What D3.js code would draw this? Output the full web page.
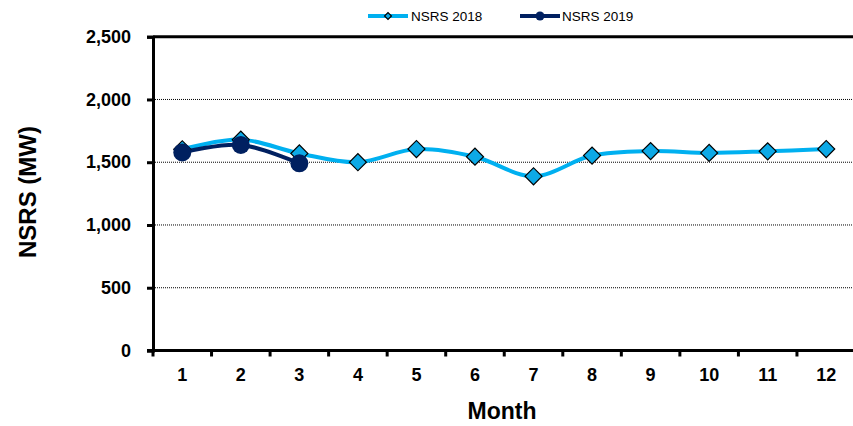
<!DOCTYPE html>
<html><head><meta charset="utf-8">
<script src="https://cdn.jsdelivr.net/npm/d3@7"></script>
<style>body{margin:0;background:#fff}svg{display:block;font-family:"Liberation Sans",Arial,sans-serif}</style>
</head><body>
<svg id="c" width="853" height="426"></svg>
<script>
const months = [1,2,3,4,5,6,7,8,9,10,11,12];
const nsrs2018 = [1603,1680,1570,1500,1605,1544,1388,1553,1589,1574,1587,1605];
const nsrs2019 = [1578,1638,1491];
const yTicks = [0,500,1000,1500,2000,2500];

const svg = d3.select("#c");
const L=153, R=855.5, T=36.7, B=350.5;
const x = d3.scaleBand().domain(months).range([L,R]);
const y = d3.scaleLinear().domain([0,2500]).range([B,T]);
const cx = m => x(m)+x.bandwidth()/2;

// gridlines
svg.append("g").selectAll("line").data(yTicks.filter(v=>v>0&&v<2500)).join("line")
  .attr("x1",L).attr("x2",853).attr("y1",d=>y(d)).attr("y2",d=>y(d))
  .attr("stroke","#000").attr("stroke-width",1).attr("stroke-dasharray","1,1");
// top border
svg.append("line").attr("x1",L).attr("x2",853).attr("y1",T).attr("y2",T).attr("stroke","#000").attr("stroke-width",3);

// y axis
const ya = svg.append("g").attr("transform",`translate(${L},0)`)
  .call(d3.axisLeft(y).tickValues(yTicks).tickSize(6).tickPadding(16).tickFormat(d3.format(",")));
ya.select(".domain").attr("stroke-width",3);
ya.selectAll(".tick line").attr("stroke-width",3);
ya.selectAll("text").attr("font-size",18).attr("font-weight","bold").attr("font-family","Liberation Sans, Arial");

// x axis
const xa = svg.append("g").attr("transform",`translate(0,${B})`)
  .call(d3.axisBottom(x).tickSize(0).tickPadding(0));
xa.select(".domain").remove();
xa.selectAll("text").attr("dy",null).attr("y",30.5).attr("font-size",18).attr("font-weight","bold").attr("font-family","Liberation Sans, Arial");
svg.append("line").attr("x1",L-6).attr("x2",853).attr("y1",B).attr("y2",B).attr("stroke","#000").attr("stroke-width",3);
svg.append("g").selectAll("line").data(months).join("line")
  .attr("x1",d=>x(d)).attr("x2",d=>x(d)).attr("y1",B).attr("y2",B+6).attr("stroke","#000").attr("stroke-width",3);

// titles
svg.append("text").attr("x",502).attr("y",419).attr("text-anchor","middle")
  .attr("font-size",23).attr("font-weight","bold").text("Month");
svg.append("text").attr("transform","translate(36,192) rotate(-90)").attr("text-anchor","middle")
  .attr("font-size",24).attr("font-weight","bold").text("NSRS (MW)");

// lines
const line = d3.line().x((d,i)=>cx(months[i])).y(d=>y(d)).curve(d3.curveCatmullRom.alpha(0));
svg.append("path").datum(nsrs2018).attr("d",line).attr("fill","none").attr("stroke","#00B0F0").attr("stroke-width",4);
svg.append("path").datum(nsrs2019).attr("d",line).attr("fill","none").attr("stroke","#002060").attr("stroke-width",4);

const diamond = d3.symbol().type(d3.symbolSquare).size(145);
svg.append("g").selectAll("path").data(nsrs2018).join("path")
  .attr("d",diamond).attr("transform",(d,i)=>`translate(${cx(months[i])},${y(d)}) rotate(45)`)
  .attr("fill","#0DA9E6").attr("stroke","#000").attr("stroke-width",1.2);
svg.append("g").selectAll("circle").data(nsrs2019).join("circle")
  .attr("cx",(d,i)=>cx(months[i])).attr("cy",d=>y(d)).attr("r",9).attr("fill","#002060");

// legend
const lg = svg.append("g");
lg.append("line").attr("x1",368).attr("x2",408).attr("y1",16).attr("y2",16).attr("stroke","#00B0F0").attr("stroke-width",4);
lg.append("path").attr("d",d3.symbol().type(d3.symbolSquare).size(24)).attr("transform","translate(388,16) rotate(45)")
  .attr("fill","#0DA9E6").attr("stroke","#000").attr("stroke-width",1.2);
lg.append("text").attr("x",411).attr("y",20.7).attr("font-size",13.5).text("NSRS 2018");
lg.append("line").attr("x1",520).attr("x2",560).attr("y1",16).attr("y2",16).attr("stroke","#002060").attr("stroke-width",4);
lg.append("circle").attr("cx",540).attr("cy",16).attr("r",4.5).attr("fill","#002060");
lg.append("text").attr("x",562).attr("y",20.7).attr("font-size",13.5).text("NSRS 2019");
</script>
</body></html>
